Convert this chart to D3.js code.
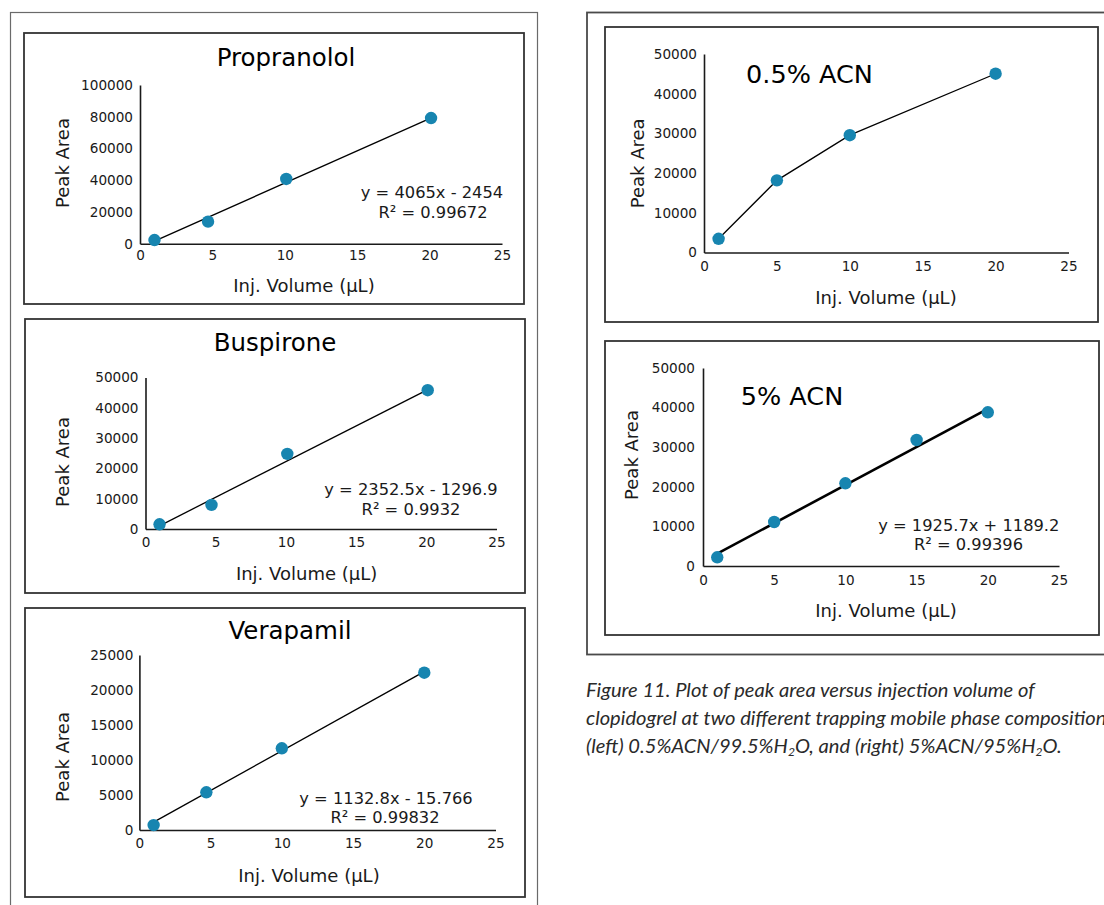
<!DOCTYPE html>
<html><head><meta charset="utf-8">
<script src="https://cdn.jsdelivr.net/npm/d3@7"></script>
<style>body{margin:0;background:#fff;overflow:hidden;} svg{display:block;}</style>
</head><body>
<svg id="c" width="1104" height="905"></svg>
<script>
// ---------- DATA ----------
const xTickValues = [0, 5, 10, 15, 20, 25];
const xAxisTitle = "Inj. Volume (μL)";
const yAxisTitle = "Peak Area";

const propranololX = [1, 4.7, 10.1, 20.1];
const propranololY = [2300, 13900, 40800, 79200];
const propranololYTicks = [0, 20000, 40000, 60000, 80000, 100000];
const propranololFit = [4065, -2454];
const propranololEq = ["y = 4065x - 2454", "R² = 0.99672"];

const buspironeX = [1, 4.7, 10.1, 20.1];
const buspironeY = [1550, 7950, 24800, 45800];
const buspironeYTicks = [0, 10000, 20000, 30000, 40000, 50000];
const buspironeFit = [2352.5, -1296.9];
const buspironeEq = ["y = 2352.5x - 1296.9", "R² = 0.9932"];

const verapamilX = [1, 4.7, 10, 20];
const verapamilY = [700, 5390, 11670, 22470];
const verapamilYTicks = [0, 5000, 10000, 15000, 20000, 25000];
const verapamilFit = [1132.8, -15.766];
const verapamilEq = ["y = 1132.8x - 15.766", "R² = 0.99832"];

const acn05X = [1, 5, 10, 20];
const acn05Y = [3460, 18180, 29550, 45030];
const acn05YTicks = [0, 10000, 20000, 30000, 40000, 50000];

const acn5X = [1, 5, 10, 15, 20];
const acn5Y = [2200, 11110, 20880, 31820, 38810];
const acn5YTicks = [0, 10000, 20000, 30000, 40000, 50000];
const acn5Fit = [1925.7, 1189.2];
const acn5Eq = ["y = 1925.7x + 1189.2", "R² = 0.99396"];

const captionLines = [
  "Figure 11. Plot of peak area versus injection volume of",
  "clopidogrel at two different trapping mobile phase compositions,"
];
// ---------- END DATA ----------

const svg = d3.select("#c");
const FONT = "'DejaVu Sans', Verdana, sans-serif";
const DOT = "#1785b0";
const INK = "#1a1a1a";

// outer frames
svg.append("rect").attr("x", 10.5).attr("y", 12.5).attr("width", 527).attr("height", 920)
  .attr("fill", "none").attr("stroke", "#6a6a6a").attr("stroke-width", 1.2);
svg.append("rect").attr("x", 587).attr("y", 12.5).attr("width", 600).attr("height", 642)
  .attr("fill", "none").attr("stroke", "#4a4a4a").attr("stroke-width", 1.8);

function panel(o) {
  const g = svg.append("g");
  g.append("rect").attr("x", o.box[0]).attr("y", o.box[1])
    .attr("width", o.box[2] - o.box[0]).attr("height", o.box[3] - o.box[1])
    .attr("fill", "#fff").attr("stroke", "#333").attr("stroke-width", 1.8);

  const x = d3.scaleLinear().domain([0, 25]).range(o.xr);
  const ymax = o.yTicks[o.yTicks.length - 1];
  const y = d3.scaleLinear().domain([0, ymax]).range(o.yr);

  const ax = g.append("g").attr("transform", `translate(0,${o.yr[0]})`)
    .call(d3.axisBottom(x).tickValues(xTickValues).tickSize(0).tickPadding(o.xpad || 8));
  const ay = g.append("g").attr("transform", `translate(${o.xr[0]},0)`)
    .call(d3.axisLeft(y).tickValues(o.yTicks).tickFormat(d3.format("d")).tickSize(0).tickPadding(o.ypad || 7));
  [ax, ay].forEach(a => {
    a.select(".domain").attr("stroke", INK).attr("stroke-width", 1.6);
    a.selectAll("text").attr("font-family", FONT).attr("font-size", 13.6).attr("fill", INK);
  });

  const pts = o.xs.map((v, i) => [v, o.ys[i]]);
  if (o.fit) {
    const x0 = d3.min(o.xs), x1 = d3.max(o.xs) - 0.1;
    g.append("line")
      .attr("x1", x(x0)).attr("y1", y(o.fit[0] * x0 + o.fit[1]))
      .attr("x2", x(x1)).attr("y2", y(o.fit[0] * x1 + o.fit[1]))
      .attr("stroke", "#000").attr("stroke-width", o.fitW || 1.3);
  } else {
    g.append("path").datum(pts)
      .attr("d", d3.line().x(d => x(d[0])).y(d => y(d[1])))
      .attr("fill", "none").attr("stroke", "#000").attr("stroke-width", 1.3);
  }
  g.selectAll("circle.pt").data(pts).join("circle")
    .attr("cx", d => x(d[0])).attr("cy", d => y(d[1])).attr("r", 6.2).attr("fill", DOT);

  if (o.title) {
    g.append("text").attr("x", o.title[1]).attr("y", o.title[2])
      .attr("text-anchor", o.title[3] || "middle").attr("dominant-baseline", "central")
      .attr("font-family", FONT).attr("font-size", o.title[4] || 24.5).attr("fill", "#000")
      .text(o.title[0]);
  }
  if (o.eq) {
    o.eq.forEach((t, i) => {
      g.append("text").attr("x", o.eqPos[i][0]).attr("y", o.eqPos[i][1])
        .attr("text-anchor", "middle").attr("dominant-baseline", "central")
        .attr("font-family", FONT).attr("font-size", 16.3).attr("fill", INK).text(t);
    });
  }
  g.append("text").attr("x", o.xt[0]).attr("y", o.xt[1])
    .attr("text-anchor", "middle").attr("dominant-baseline", "central")
    .attr("font-family", FONT).attr("font-size", 18).attr("fill", INK).text(xAxisTitle);
  g.append("text").attr("transform", `translate(${o.yt[0]},${o.yt[1]}) rotate(-90)`)
    .attr("text-anchor", "middle").attr("dominant-baseline", "central")
    .attr("font-family", FONT).attr("font-size", 18).attr("fill", INK).text(yAxisTitle);
}

panel({
  box: [24, 33, 524, 304], xr: [140, 502], yr: [243.7, 85],
  xs: propranololX, ys: propranololY, yTicks: propranololYTicks,
  fit: propranololFit, eq: propranololEq, eqPos: [[432, 192], [433, 212]],
  title: ["Propranolol", 286, 57], xt: [304, 285], yt: [62, 163], xpad: 7
});
panel({
  box: [25, 319, 525, 593], xr: [145.5, 496.5], yr: [529, 377.5],
  xs: buspironeX, ys: buspironeY, yTicks: buspironeYTicks,
  fit: buspironeFit, eq: buspironeEq, eqPos: [[411, 489], [411, 509]],
  title: ["Buspirone", 275, 342], xt: [306.6, 573], yt: [62, 462], xpad: 8
});
panel({
  box: [25, 608, 525, 897], xr: [139.4, 495.5], yr: [830, 655],
  xs: verapamilX, ys: verapamilY, yTicks: verapamilYTicks,
  fit: verapamilFit, eq: verapamilEq, eqPos: [[386, 798], [385, 817]],
  title: ["Verapamil", 290, 630], xt: [309, 875], yt: [62, 757], xpad: 8, ypad: 6
});
panel({
  box: [605, 27, 1098, 322], xr: [704, 1068.5], yr: [252.5, 54],
  xs: acn05X, ys: acn05Y, yTicks: acn05YTicks,
  title: ["0.5% ACN", 809.5, 73.5, "middle", 25.5], xt: [886, 297.7], yt: [637.4, 163.3], xpad: 9
});
panel({
  box: [605, 341, 1099, 635], xr: [703, 1059], yr: [566, 368],
  xs: acn5X, ys: acn5Y, yTicks: acn5YTicks,
  fit: acn5Fit, fitW: 2.6, eq: acn5Eq, eqPos: [[968.8, 525.7], [968.5, 544]],
  title: ["5% ACN", 792, 395.7, "middle", 25.5], xt: [886, 610], yt: [631.3, 455], xpad: 9, ypad: 8
});

// caption
const cap = svg.append("g").attr("font-family", "Lato, 'Open Sans', sans-serif")
  .attr("font-style", "italic").attr("fill", "#2a2a2a");
const capX = 586;
const l1 = cap.append("text").attr("x", capX).attr("y", 697).attr("font-size", 15).text(captionLines[0]);
const fs = 15 * 449 / l1.node().getComputedTextLength();
l1.attr("font-size", fs);
cap.append("text").attr("x", capX).attr("y", 725).attr("font-size", fs).text(captionLines[1]);
const l3 = cap.append("text").attr("x", capX).attr("y", 752.5).attr("font-size", fs);
l3.append("tspan").text("(left) 0.5%ACN/99.5%H");
l3.append("tspan").attr("font-size", fs * 0.6).attr("dy", 3).text("2");
l3.append("tspan").attr("dy", -3).text("O, and (right) 5%ACN/95%H");
l3.append("tspan").attr("font-size", fs * 0.6).attr("dy", 3).text("2");
l3.append("tspan").attr("dy", -3).text("O.");
</script>
</body></html>
